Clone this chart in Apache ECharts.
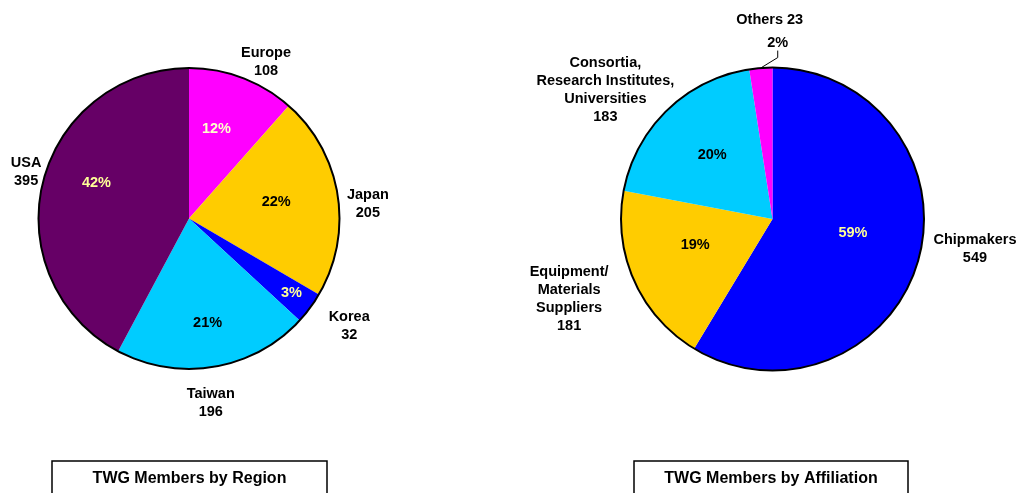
<!DOCTYPE html>
<html>
<head>
<meta charset="utf-8">
<script src="https://cdn.jsdelivr.net/npm/echarts@6/dist/echarts.min.js"></script>
<style>
  html, body { margin: 0; padding: 0; background: #fff; }
  #chart { width: 1017px; height: 493px; }
</style>
</head>
<body>
<div id="chart"></div>
<script>
// ---------------- data ----------------
const regionNames  = ['Europe', 'Japan', 'Korea', 'Taiwan', 'USA'];
const regionValues = [108, 205, 32, 196, 395];

const affiliationNames  = ['Chipmakers', 'Equipment/\nMaterials\nSuppliers', 'Consortia,\nResearch Institutes,\nUniversities', 'Others'];
const affiliationValues = [549, 181, 183, 23];

const chartTitles = ['TWG Members by Region', 'TWG Members by Affiliation'];

// ---------------- styles / layout ----------------
const regionColors      = ['#FF00FF', '#FFCC00', '#0000FF', '#00CCFF', '#660066'];
const regionPctColors   = ['#FFFFCC', '#000000', '#FFFF99', '#000000', '#FFFF99'];
const affiliationColors = ['#0000FF', '#FFCC00', '#00CCFF', '#FF00FF'];
const affiliationPctColors = ['#FFFF99', '#000000', '#000000', '#000000'];

const FONT = '"Liberation Sans", Arial, sans-serif';
const leftPie  = { cx: 189, cy: 218.5, r: 150.5 };
const rightPie = { cx: 772.5, cy: 219, r: 151.5 };

// label nudges (px) relative to a polar anchor on each slice's mid angle
const leftNameNudge  = [[16, 4], [9, 13], [22, 5], [-7, 15], [4, -5]];
const leftPctNudge   = [[-5.6, -2.3], [-5, -2], [27.5, 19], [3, 12.5], [-2, -13]];
const rightNameNudge = [[18, -21.5], [-28.5, 1.6], [-34, 9], [12, -8]];
const rightPctNudge  = [[-10, -11], [8.5, -12], [5, 3.5], [20, 15]];

function midAngle(values, i) {
  const total = values.reduce((a, b) => a + b, 0);
  let before = 0;
  for (let k = 0; k < i; k++) before += values[k];
  return 90 - 360 * (before + values[i] / 2) / total;
}

function layoutFn(pie, values, radiusFor, nudges) {
  return function (p) {
    const i = p.dataIndex;
    const a = midAngle(values, i) * Math.PI / 180;
    const R = radiusFor(i);
    return {
      x: pie.cx + R * Math.cos(a) + nudges[i][0],
      y: pie.cy - R * Math.sin(a) + nudges[i][1],
      align: 'center',
      verticalAlign: 'middle'
    };
  };
}

function pieSeries(pie, names, values, colors, pctColors, nameNudge, pctNudge, nameR, pctR, inlineNames, outsidePct) {
  const center = [pie.cx, pie.cy];
  const main = {
    type: 'pie', center: center, radius: pie.r, startAngle: 90, clockwise: true,
    avoidLabelOverlap: false, silent: true, animation: false,
    itemStyle: { borderWidth: 0 },
    label: {
      show: true, position: 'outside', color: '#000', fontFamily: FONT, fontWeight: 'bold',
      fontSize: 14.5, lineHeight: 18, align: 'center',
      formatter: function (p) {
        return inlineNames.indexOf(p.name) >= 0 ? p.name + ' ' + p.value : p.name + '\n' + p.value;
      }
    },
    labelLine: { show: false },
    labelLayout: layoutFn(pie, values, () => nameR, nameNudge),
    data: names.map((n, i) => ({ name: n, value: values[i], itemStyle: { color: colors[i] } }))
  };
  const pct = {
    type: 'pie', center: center, radius: pie.r, startAngle: 90, clockwise: true,
    avoidLabelOverlap: false, silent: true, animation: false,
    itemStyle: { color: 'rgba(0,0,0,0)', borderWidth: 0 },
    label: {
      show: true, position: 'inside', fontFamily: FONT, fontWeight: 'bold', fontSize: 14.5,
      formatter: p => Math.round(p.percent) + '%'
    },
    labelLine: { show: false },
    labelLayout: layoutFn(pie, values, i => (outsidePct.indexOf(names[i]) >= 0 ? nameR : pie.r * 0.62), pctNudge),
    data: names.map((n, i) => {
      const out = outsidePct.indexOf(n) >= 0;
      return {
        name: n, value: values[i],
        label: { color: pctColors[i], position: out ? 'outside' : 'inside' },
        labelLine: out ? { show: true, length: 8, length2: 7, smooth: false, lineStyle: { color: '#000', width: 1 } } : { show: false }
      };
    })
  };
  const outline = {
    type: 'pie', center: center, radius: pie.r, silent: true, animation: false,
    label: { show: false }, labelLine: { show: false },
    itemStyle: { color: 'rgba(0,0,0,0)', borderColor: '#000', borderWidth: 2 },
    data: [{ value: values.reduce((a, b) => a + b, 0), name: 'total' }]
  };
  return [main, pct, outline];
}

const chart = echarts.init(document.getElementById('chart'), null, { renderer: 'canvas' });

const series = []
  .concat(pieSeries(leftPie, regionNames, regionValues, regionColors, regionPctColors,
                    leftNameNudge, leftPctNudge, 172, 93, [], []))
  .concat(pieSeries(rightPie, affiliationNames, affiliationValues, affiliationColors, affiliationPctColors,
                    rightNameNudge, rightPctNudge, 191.5, 94, ['Others'], ['Others']));

function titleBox(x, w, text) {
  return {
    type: 'group',
    children: [
      { type: 'rect', shape: { x: x, y: 461, width: w, height: 60 },
        style: { fill: '#fff', stroke: '#000', lineWidth: 1.5 } },
      { type: 'text', x: x + w / 2, y: 479,
        style: { text: text, fill: '#000', font: 'bold 16px ' + FONT, textAlign: 'center', textVerticalAlign: 'middle' } }
    ]
  };
}

chart.setOption({
  backgroundColor: '#fff',
  animation: false,
  series: series,
  graphic: [titleBox(52, 275, chartTitles[0]), titleBox(634, 274, chartTitles[1])]
});
</script>
</body>
</html>
